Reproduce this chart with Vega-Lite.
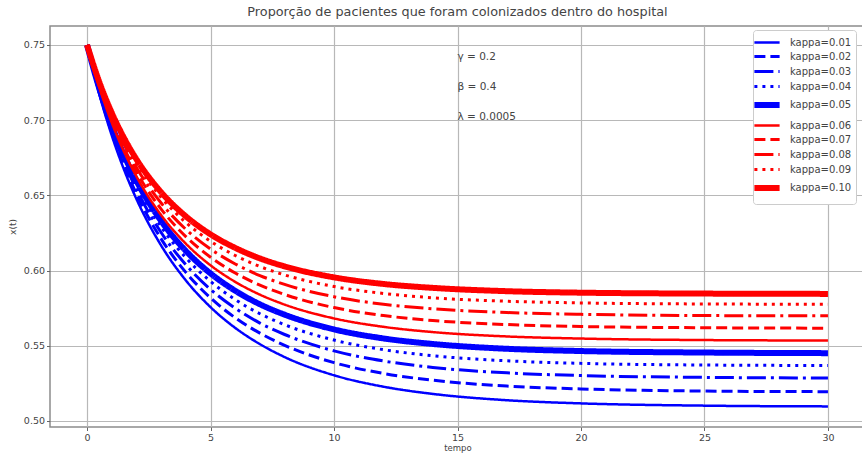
{
  "$schema": "https://vega.github.io/schema/vega-lite/v6.json",
  "autosize": {"type": "none"},
  "padding": {"left": 50, "top": 26, "right": 0, "bottom": 26},
  "width": 815,
  "height": 401,
  "background": "white",
  "config": {
    "font": "DejaVu Sans",
    "view": {"stroke": "#8c8c8c", "strokeWidth": 1.5},
    "axis": {
      "gridColor": "#b8b8b8", "gridWidth": 1.2, "gridOpacity": 1,
      "domain": false, "tickColor": "#666", "tickSize": 3.5,
      "labelFont": "DejaVu Sans", "labelFontSize": 9.5, "labelColor": "#444",
      "titleFont": "DejaVu Sans", "titleFontSize": 9, "titleFontWeight": "normal", "titleColor": "#444"
    },
    "legend": {
      "orient": "none", "legendX": 703, "legendY": 4,
      "fillColor": "white", "strokeColor": "#cccccc", "cornerRadius": 3, "padding": 4,
      "symbolType": "M-1.8,0H1.8", "symbolSize": 196, "rowPadding": 0,
      "labelFont": "DejaVu Sans", "labelFontSize": 10, "labelColor": "#444", "labelOffset": 13
    }
  },
  "title": {
    "text": "Proporção de pacientes que foram colonizados dentro do hospital",
    "font": "DejaVu Sans", "fontSize": 12.8, "fontWeight": "normal", "color": "#444", "offset": 7
  },
  "layer": [
    {
      "data": {"values": [
        {"k": "kappa=0.01", "t": 0, "x": 0.75}, {"k": "kappa=0.01", "t": 0.5, "x": 0.7171}, {"k": "kappa=0.01", "t": 1, "x": 0.6899}, {"k": "kappa=0.01", "t": 1.5, "x": 0.6670}, {"k": "kappa=0.01", "t": 2, "x": 0.6476}, {"k": "kappa=0.01", "t": 3, "x": 0.6167}, {"k": "kappa=0.01", "t": 4, "x": 0.5935}, {"k": "kappa=0.01", "t": 5, "x": 0.5757}, {"k": "kappa=0.01", "t": 6, "x": 0.5619}, {"k": "kappa=0.01", "t": 7, "x": 0.5511}, {"k": "kappa=0.01", "t": 8, "x": 0.5425}, {"k": "kappa=0.01", "t": 10, "x": 0.5304}, {"k": "kappa=0.01", "t": 12, "x": 0.5228}, {"k": "kappa=0.01", "t": 14, "x": 0.5180}, {"k": "kappa=0.01", "t": 17, "x": 0.5138}, {"k": "kappa=0.01", "t": 20, "x": 0.5117}, {"k": "kappa=0.01", "t": 25, "x": 0.5102}, {"k": "kappa=0.01", "t": 30, "x": 0.5097},
        {"k": "kappa=0.02", "t": 0, "x": 0.75}, {"k": "kappa=0.02", "t": 0.5, "x": 0.7181}, {"k": "kappa=0.02", "t": 1, "x": 0.6918}, {"k": "kappa=0.02", "t": 1.5, "x": 0.6697}, {"k": "kappa=0.02", "t": 2, "x": 0.6509}, {"k": "kappa=0.02", "t": 3, "x": 0.6211}, {"k": "kappa=0.02", "t": 4, "x": 0.5988}, {"k": "kappa=0.02", "t": 5, "x": 0.5818}, {"k": "kappa=0.02", "t": 6, "x": 0.5686}, {"k": "kappa=0.02", "t": 7, "x": 0.5584}, {"k": "kappa=0.02", "t": 8, "x": 0.5503}, {"k": "kappa=0.02", "t": 10, "x": 0.5388}, {"k": "kappa=0.02", "t": 12, "x": 0.5316}, {"k": "kappa=0.02", "t": 14, "x": 0.5271}, {"k": "kappa=0.02", "t": 17, "x": 0.5232}, {"k": "kappa=0.02", "t": 20, "x": 0.5213}, {"k": "kappa=0.02", "t": 25, "x": 0.5199}, {"k": "kappa=0.02", "t": 30, "x": 0.5195},
        {"k": "kappa=0.03", "t": 0, "x": 0.75}, {"k": "kappa=0.03", "t": 0.5, "x": 0.7191}, {"k": "kappa=0.03", "t": 1, "x": 0.6935}, {"k": "kappa=0.03", "t": 1.5, "x": 0.6721}, {"k": "kappa=0.03", "t": 2, "x": 0.6540}, {"k": "kappa=0.03", "t": 3, "x": 0.6253}, {"k": "kappa=0.03", "t": 4, "x": 0.6039}, {"k": "kappa=0.03", "t": 5, "x": 0.5875}, {"k": "kappa=0.03", "t": 6, "x": 0.5750}, {"k": "kappa=0.03", "t": 7, "x": 0.5651}, {"k": "kappa=0.03", "t": 8, "x": 0.5575}, {"k": "kappa=0.03", "t": 10, "x": 0.5466}, {"k": "kappa=0.03", "t": 12, "x": 0.5399}, {"k": "kappa=0.03", "t": 14, "x": 0.5356}, {"k": "kappa=0.03", "t": 17, "x": 0.5320}, {"k": "kappa=0.03", "t": 20, "x": 0.5302}, {"k": "kappa=0.03", "t": 25, "x": 0.5290}, {"k": "kappa=0.03", "t": 30, "x": 0.5286},
        {"k": "kappa=0.04", "t": 0, "x": 0.75}, {"k": "kappa=0.04", "t": 0.5, "x": 0.7199}, {"k": "kappa=0.04", "t": 1, "x": 0.6951}, {"k": "kappa=0.04", "t": 1.5, "x": 0.6743}, {"k": "kappa=0.04", "t": 2, "x": 0.6568}, {"k": "kappa=0.04", "t": 3, "x": 0.6291}, {"k": "kappa=0.04", "t": 4, "x": 0.6085}, {"k": "kappa=0.04", "t": 5, "x": 0.5928}, {"k": "kappa=0.04", "t": 6, "x": 0.5807}, {"k": "kappa=0.04", "t": 7, "x": 0.5713}, {"k": "kappa=0.04", "t": 8, "x": 0.5640}, {"k": "kappa=0.04", "t": 10, "x": 0.5538}, {"k": "kappa=0.04", "t": 12, "x": 0.5474}, {"k": "kappa=0.04", "t": 14, "x": 0.5434}, {"k": "kappa=0.04", "t": 17, "x": 0.5400}, {"k": "kappa=0.04", "t": 20, "x": 0.5383}, {"k": "kappa=0.04", "t": 25, "x": 0.5372}, {"k": "kappa=0.04", "t": 30, "x": 0.5369},
        {"k": "kappa=0.05", "t": 0, "x": 0.75}, {"k": "kappa=0.05", "t": 0.5, "x": 0.7208}, {"k": "kappa=0.05", "t": 1, "x": 0.6967}, {"k": "kappa=0.05", "t": 1.5, "x": 0.6766}, {"k": "kappa=0.05", "t": 2, "x": 0.6597}, {"k": "kappa=0.05", "t": 3, "x": 0.6330}, {"k": "kappa=0.05", "t": 4, "x": 0.6131}, {"k": "kappa=0.05", "t": 5, "x": 0.5981}, {"k": "kappa=0.05", "t": 6, "x": 0.5866}, {"k": "kappa=0.05", "t": 7, "x": 0.5776}, {"k": "kappa=0.05", "t": 8, "x": 0.5707}, {"k": "kappa=0.05", "t": 10, "x": 0.5609}, {"k": "kappa=0.05", "t": 12, "x": 0.5549}, {"k": "kappa=0.05", "t": 14, "x": 0.5512}, {"k": "kappa=0.05", "t": 17, "x": 0.5480}, {"k": "kappa=0.05", "t": 20, "x": 0.5465}, {"k": "kappa=0.05", "t": 25, "x": 0.5455}, {"k": "kappa=0.05", "t": 30, "x": 0.5451},
        {"k": "kappa=0.06", "t": 0, "x": 0.75}, {"k": "kappa=0.06", "t": 0.5, "x": 0.7217}, {"k": "kappa=0.06", "t": 1, "x": 0.6984}, {"k": "kappa=0.06", "t": 1.5, "x": 0.6789}, {"k": "kappa=0.06", "t": 2, "x": 0.6626}, {"k": "kappa=0.06", "t": 3, "x": 0.6369}, {"k": "kappa=0.06", "t": 4, "x": 0.6179}, {"k": "kappa=0.06", "t": 5, "x": 0.6035}, {"k": "kappa=0.06", "t": 6, "x": 0.5925}, {"k": "kappa=0.06", "t": 7, "x": 0.5840}, {"k": "kappa=0.06", "t": 8, "x": 0.5774}, {"k": "kappa=0.06", "t": 10, "x": 0.5682}, {"k": "kappa=0.06", "t": 12, "x": 0.5626}, {"k": "kappa=0.06", "t": 14, "x": 0.5591}, {"k": "kappa=0.06", "t": 17, "x": 0.5562}, {"k": "kappa=0.06", "t": 20, "x": 0.5548}, {"k": "kappa=0.06", "t": 25, "x": 0.5538}, {"k": "kappa=0.06", "t": 30, "x": 0.5535},
        {"k": "kappa=0.07", "t": 0, "x": 0.75}, {"k": "kappa=0.07", "t": 0.5, "x": 0.7226}, {"k": "kappa=0.07", "t": 1, "x": 0.7001}, {"k": "kappa=0.07", "t": 1.5, "x": 0.6813}, {"k": "kappa=0.07", "t": 2, "x": 0.6656}, {"k": "kappa=0.07", "t": 3, "x": 0.6409}, {"k": "kappa=0.07", "t": 4, "x": 0.6226}, {"k": "kappa=0.07", "t": 5, "x": 0.6089}, {"k": "kappa=0.07", "t": 6, "x": 0.5984}, {"k": "kappa=0.07", "t": 7, "x": 0.5903}, {"k": "kappa=0.07", "t": 8, "x": 0.5841}, {"k": "kappa=0.07", "t": 10, "x": 0.5754}, {"k": "kappa=0.07", "t": 12, "x": 0.5701}, {"k": "kappa=0.07", "t": 14, "x": 0.5668}, {"k": "kappa=0.07", "t": 17, "x": 0.5641}, {"k": "kappa=0.07", "t": 20, "x": 0.5628}, {"k": "kappa=0.07", "t": 25, "x": 0.5620}, {"k": "kappa=0.07", "t": 30, "x": 0.5617},
        {"k": "kappa=0.08", "t": 0, "x": 0.75}, {"k": "kappa=0.08", "t": 0.5, "x": 0.7235}, {"k": "kappa=0.08", "t": 1, "x": 0.7018}, {"k": "kappa=0.08", "t": 1.5, "x": 0.6838}, {"k": "kappa=0.08", "t": 2, "x": 0.6686}, {"k": "kappa=0.08", "t": 3, "x": 0.6449}, {"k": "kappa=0.08", "t": 4, "x": 0.6274}, {"k": "kappa=0.08", "t": 5, "x": 0.6143}, {"k": "kappa=0.08", "t": 6, "x": 0.6044}, {"k": "kappa=0.08", "t": 7, "x": 0.5967}, {"k": "kappa=0.08", "t": 8, "x": 0.5908}, {"k": "kappa=0.08", "t": 10, "x": 0.5826}, {"k": "kappa=0.08", "t": 12, "x": 0.5776}, {"k": "kappa=0.08", "t": 14, "x": 0.5746}, {"k": "kappa=0.08", "t": 17, "x": 0.5721}, {"k": "kappa=0.08", "t": 20, "x": 0.5709}, {"k": "kappa=0.08", "t": 25, "x": 0.5701}, {"k": "kappa=0.08", "t": 30, "x": 0.5699},
        {"k": "kappa=0.09", "t": 0, "x": 0.75}, {"k": "kappa=0.09", "t": 0.5, "x": 0.7244}, {"k": "kappa=0.09", "t": 1, "x": 0.7034}, {"k": "kappa=0.09", "t": 1.5, "x": 0.6860}, {"k": "kappa=0.09", "t": 2, "x": 0.6715}, {"k": "kappa=0.09", "t": 3, "x": 0.6487}, {"k": "kappa=0.09", "t": 4, "x": 0.6320}, {"k": "kappa=0.09", "t": 5, "x": 0.6195}, {"k": "kappa=0.09", "t": 6, "x": 0.6100}, {"k": "kappa=0.09", "t": 7, "x": 0.6027}, {"k": "kappa=0.09", "t": 8, "x": 0.5971}, {"k": "kappa=0.09", "t": 10, "x": 0.5894}, {"k": "kappa=0.09", "t": 12, "x": 0.5848}, {"k": "kappa=0.09", "t": 14, "x": 0.5819}, {"k": "kappa=0.09", "t": 17, "x": 0.5796}, {"k": "kappa=0.09", "t": 20, "x": 0.5785}, {"k": "kappa=0.09", "t": 25, "x": 0.5778}, {"k": "kappa=0.09", "t": 30, "x": 0.5776},
        {"k": "kappa=0.10", "t": 0, "x": 0.75}, {"k": "kappa=0.10", "t": 0.5, "x": 0.7252}, {"k": "kappa=0.10", "t": 1, "x": 0.7049}, {"k": "kappa=0.10", "t": 1.5, "x": 0.6881}, {"k": "kappa=0.10", "t": 2, "x": 0.6740}, {"k": "kappa=0.10", "t": 3, "x": 0.6521}, {"k": "kappa=0.10", "t": 4, "x": 0.6361}, {"k": "kappa=0.10", "t": 5, "x": 0.6241}, {"k": "kappa=0.10", "t": 6, "x": 0.6151}, {"k": "kappa=0.10", "t": 7, "x": 0.6081}, {"k": "kappa=0.10", "t": 8, "x": 0.6028}, {"k": "kappa=0.10", "t": 10, "x": 0.5955}, {"k": "kappa=0.10", "t": 12, "x": 0.5911}, {"k": "kappa=0.10", "t": 14, "x": 0.5885}, {"k": "kappa=0.10", "t": 17, "x": 0.5863}, {"k": "kappa=0.10", "t": 20, "x": 0.5853}, {"k": "kappa=0.10", "t": 25, "x": 0.5847}, {"k": "kappa=0.10", "t": 30, "x": 0.5845}
      ]},
      "mark": {"type": "line", "interpolate": "monotone", "clip": true},
      "encoding": {
        "x": {"field": "t", "type": "quantitative", "scale": {"domain": [-1.5, 31.5], "nice": false, "zero": false},
              "axis": {"values": [0, 5, 10, 15, 20, 25, 30], "title": "tempo", "titlePadding": 1, "labelPadding": 2, "titleFontSize": 8.5}},
        "y": {"field": "x", "type": "quantitative", "scale": {"domain": [0.496, 0.7626], "nice": false, "zero": false},
              "axis": {"values": [0.5, 0.55, 0.6, 0.65, 0.7, 0.75], "format": ".2f", "title": "x(t)", "titlePadding": 6, "labelPadding": 2}},
        "color": {"field": "k", "type": "nominal",
                  "scale": {"domain": ["kappa=0.01", "kappa=0.02", "kappa=0.03", "kappa=0.04", "kappa=0.05", "kappa=0.06", "kappa=0.07", "kappa=0.08", "kappa=0.09", "kappa=0.10"],
                            "range": ["#0000ff", "#0000ff", "#0000ff", "#0000ff", "#0000ff", "#ff0000", "#ff0000", "#ff0000", "#ff0000", "#ff0000"]},
                  "legend": {"title": null}},
        "strokeDash": {"field": "k", "type": "nominal",
                  "scale": {"domain": ["kappa=0.01", "kappa=0.02", "kappa=0.03", "kappa=0.04", "kappa=0.05", "kappa=0.06", "kappa=0.07", "kappa=0.08", "kappa=0.09", "kappa=0.10"],
                            "range": [[1, 0], [11, 5], [19, 5, 3, 5], [3, 5], [1, 0], [1, 0], [11, 5], [19, 5, 3, 5], [3, 5], [1, 0]]},
                  "legend": {"title": null}},
        "strokeWidth": {"field": "k", "type": "nominal",
                  "scale": {"type": "ordinal", "domain": ["kappa=0.01", "kappa=0.02", "kappa=0.03", "kappa=0.04", "kappa=0.05", "kappa=0.06", "kappa=0.07", "kappa=0.08", "kappa=0.09", "kappa=0.10"],
                            "range": [2.5, 3, 3, 3, 6, 2.5, 3, 3, 3, 6]},
                  "legend": {"title": null}}
      }
    },
    {
      "data": {"values": [
        {"t": 15, "y": 0.74, "label": "γ = 0.2"},
        {"t": 15, "y": 0.72, "label": "β = 0.4"},
        {"t": 15, "y": 0.70, "label": "λ = 0.0005"}
      ]},
      "mark": {"type": "text", "align": "left", "baseline": "alphabetic", "font": "DejaVu Sans", "fontSize": 10.5, "color": "#444"},
      "encoding": {
        "x": {"field": "t", "type": "quantitative"},
        "y": {"field": "y", "type": "quantitative"},
        "text": {"field": "label"}
      }
    }
  ]
}
